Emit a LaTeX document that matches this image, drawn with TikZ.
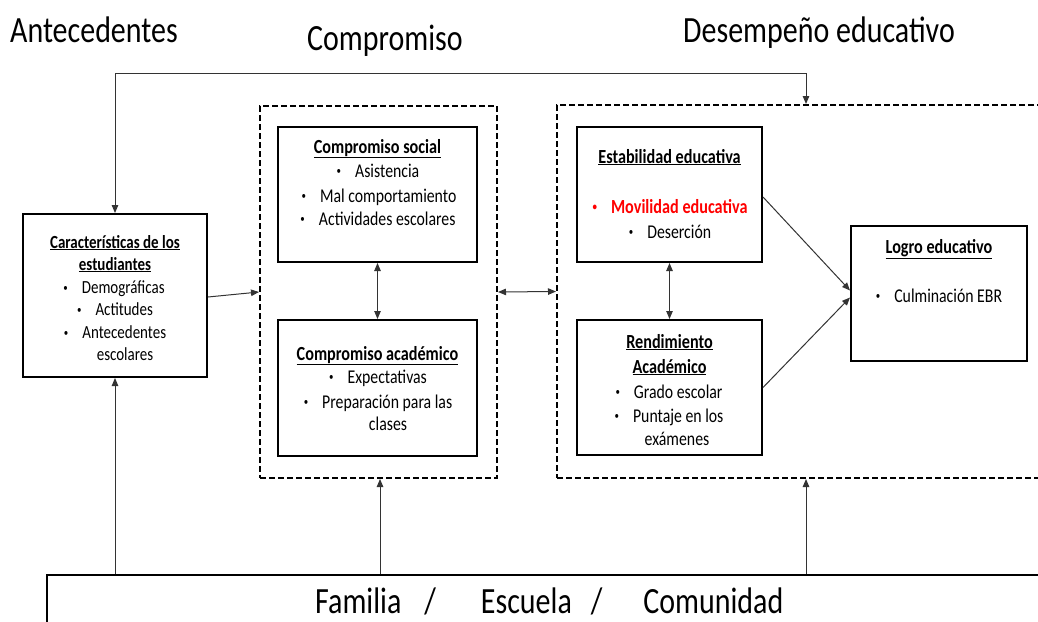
\documentclass[tikz,border=0pt]{standalone}
\usepackage{fontspec}
\setmainfont{Carlito}[FakeStretch=0.81]
\usetikzlibrary{arrows.meta}
\definecolor{movred}{RGB}{255,0,0}
\tikzset{
  box/.style={draw=black, line width=2pt, fill=white, inner sep=0pt},
  dbox/.style={draw=black, line width=2pt, dash pattern=on 6pt off 3pt, inner sep=0pt},
  conn/.style={draw=black!80, line width=1pt},
  tip/.style={-{Triangle[length=8pt,width=6.5pt]}},
  tips/.style={{Triangle[length=8pt,width=6.5pt]}-{Triangle[length=8pt,width=6.5pt]}},
  big/.style={font=\fontsize{37}{44}\selectfont, inner sep=0pt, anchor=base},
  ttl/.style={font=\fontsize{20}{24}\selectfont\bfseries, inner sep=0pt, anchor=base},
  txt/.style={font=\fontsize{19.5}{24}\selectfont, inner sep=0pt, anchor=base},
  ctl/.style={font=\fontsize{18.5}{23}\selectfont\bfseries, inner sep=0pt, anchor=base},
  ctx/.style={font=\fontsize{18.5}{23}\selectfont, inner sep=0pt, anchor=base},
}
\newcommand{\bul}{\raisebox{0.22ex}{\fontsize{11}{11}\selectfont\textbullet}\hspace{14pt}}
\begin{document}
\begin{tikzpicture}[x=1pt,y=-1pt]
\useasboundingbox (0,0) rectangle (1038,621);
\clip (0,0) rectangle (1038,621);

% titles
\node[big, anchor=base west] (tA) at (10,42) {Antecedentes};
\node[big] (tC) at (385,50) {Compromiso};
\node[big] (tD) at (819,42) {Desempeño educativo};

% dashed groups
\node[dbox, minimum width=237pt, minimum height=372pt] (ldash) at (378.5,292) {};
\node[dbox, minimum width=493pt, minimum height=373pt] (rdash) at (803.5,291.5) {};

% boxes
\node[box, minimum width=184pt, minimum height=163pt] (char) at (115,295.5) {};
\node[box, minimum width=199pt, minimum height=135pt] (social) at (377.5,194.5) {};
\node[box, minimum width=199pt, minimum height=136pt] (acad) at (377.5,388) {};
\node[box, minimum width=185pt, minimum height=135pt] (estab) at (669.5,194.5) {};
\node[box, minimum width=185pt, minimum height=135pt] (rend) at (669.5,387.5) {};
\node[box, minimum width=176pt, minimum height=135pt] (logro) at (939,293.5) {};
\node[box, minimum width=1013pt, minimum height=75pt] (fam) at (553.5,612.5) {};

% texts: characteristics
\node[ctl] (c1) at (115,248) {\underline{Características de los}};
\node[ctl] (c2) at (115,270) {\underline{estudiantes}};
\node[ctx] (c3) at (114,293) {\bul Demográficas};
\node[ctx] (c4) at (115,315) {\bul Actitudes};
\node[ctx] (c5) at (115,338) {\bul Antecedentes};
\node[ctx] (c6) at (125,360) {escolares};

% social
\node[ttl] (s1) at (377.5,153) {\underline{Compromiso social}};
\node[txt] (s2) at (378,177) {\bul Asistencia};
\node[txt] (s3) at (379,202) {\bul Mal comportamiento};
\node[txt] (s4) at (378,225) {\bul Actividades escolares};

% academic
\node[ttl] (a1) at (377.5,360) {\underline{Compromiso académico}};
\node[txt] (a2) at (378,383) {\bul Expectativas};
\node[txt] (a3) at (378,408) {\bul Preparación para las};
\node[txt] (a4) at (388,430) {clases};

% estabilidad
\node[ttl] (e1) at (669.5,163) {\underline{Estabilidad educativa}};
\node[ttl, text=movred] (e2) at (670,213) {\bul Movilidad educativa};
\node[txt] (e3) at (670,238) {\bul Deserción};

% rendimiento
\node[ttl] (r1) at (669.5,348) {\underline{Rendimiento}};
\node[ttl] (r2) at (669.5,373) {\underline{Académico}};
\node[txt] (r3) at (669,398) {\bul Grado escolar};
\node[txt] (r4) at (669,422) {\bul Puntaje en los};
\node[txt] (r5) at (677,445) {exámenes};

% logro
\node[ttl] (l1) at (939,253) {\underline{Logro educativo}};
\node[txt] (l2) at (939,302) {\bul Culminación EBR};

% bottom text
\node[big, anchor=base west] (ft) at (315,613) {Familia\hspace{23pt}/\hspace{45pt}Escuela\hspace{19pt}/\hspace{41pt}Comunidad};

% connectors
\coordinate (tl) at (115,73);
\coordinate (tr) at (806,73);
\coordinate (bm) at (380,0);
\draw[conn, tips] (char.north) -- (tl) -- (tr) -- (tr |- rdash.north);
\draw[conn, tip] (char.south |- fam.north) -- (char.south);
\draw[conn, tip] (bm |- fam.north) -- (bm |- ldash.south);
\draw[conn, tip] (tr |- fam.north) -- (tr |- rdash.south);
\draw[conn, tip] ([yshift=-1.5pt]char.east) -- (ldash.west);
\draw[conn, tips] (ldash.east) -- (rdash.west);
\draw[conn, tips] (social.south) -- (acad.north);
\draw[conn, tips] (estab.south) -- (rend.north);
\draw[conn, tip] ([yshift=-2.5pt]estab.east) -- ([yshift=3pt]logro.west);
\draw[conn, tip] (rend.east) -- ([yshift=-4pt]logro.west);
\end{tikzpicture}
\end{document}
